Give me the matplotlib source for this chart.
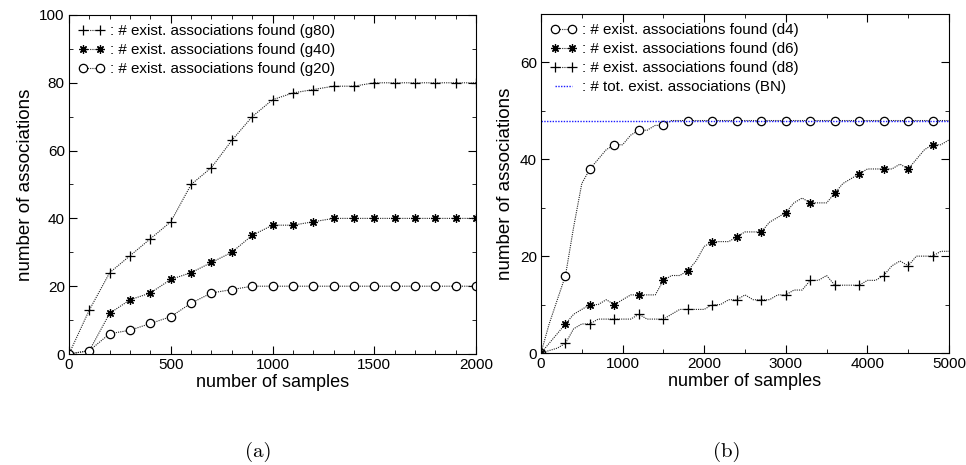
import matplotlib
matplotlib.use('Agg')
import matplotlib.pyplot as plt
from matplotlib.ticker import MultipleLocator

plt.rcParams['font.family'] = ['Liberation Sans', 'DejaVu Sans']

# panel (a): samples 0..2000, step 100
samples_a = list(range(0, 2001, 100))
g80 = [0, 13, 24, 29, 34, 39, 50, 55, 63, 70, 75, 77, 78, 79, 79, 80, 80, 80, 80, 80, 80]
g40 = [0, 1, 12, 16, 18, 22, 24, 27, 30, 35, 38, 38, 39, 40, 40, 40, 40, 40, 40, 40, 40]
g20 = [0, 1, 6, 7, 9, 11, 15, 18, 19, 20, 20, 20, 20, 20, 20, 20, 20, 20, 20, 20, 20]

# panel (b): samples 0..5000, step 100 (markers every 300)
samples_b = list(range(0, 5001, 100))
d4 = [0, 6, 11, 16, 26, 35, 38, 40, 42, 43, 43,
      45, 46, 46, 47, 47, 48, 48, 48, 48, 48,
      48, 48, 48, 48, 48, 48, 48, 48, 48, 48,
      48, 48, 48, 48, 48, 48, 48, 48, 48, 48,
      48, 48, 48, 48, 48, 48, 48, 48, 48, 48]
d6 = [0, 2, 4, 6, 8, 9, 10, 10, 11, 10, 11,
      12, 12, 12, 12, 15, 16, 16, 17, 19, 22,
      23, 23, 23, 24, 25, 25, 25, 27, 28, 29,
      31, 32, 31, 31, 31, 33, 35, 36, 37, 38,
      38, 38, 38, 39, 38, 40, 42, 43, 43, 44]
d8 = [0, 0.5, 1, 2, 5, 6, 6, 7, 7, 7, 7,
      7, 8, 7, 7, 7, 8, 9, 9, 9, 9,
      10, 10, 11, 11, 12, 11, 11, 11, 12, 12,
      13, 13, 15, 15, 16, 14, 14, 14, 14, 15,
      15, 16, 18, 19, 18, 20, 20, 20, 21, 21]
bn_total = 48

labels_a = [': # exist. associations found (g80)',
            ': # exist. associations found (g40)',
            ': # exist. associations found (g20)']
labels_b = [': # exist. associations found (d4)',
            ': # exist. associations found (d6)',
            ': # exist. associations found (d8)',
            ': # tot. exist. associations (BN)']

W, H = 966, 465
fig = plt.figure(figsize=(W / 100, H / 100), dpi=100)
ax1 = fig.add_axes([69 / W, (H - 354) / H, 407 / W, 339 / H])
ax2 = fig.add_axes([541 / W, (H - 353) / H, 408 / W, 339 / H])

ls = (0, (1, 1))
asterisk = (8, 2, 0)
common = dict(color='#222222', lw=0.8, linestyle=ls, mew=0.9, mec='black')

ax1.plot(samples_a, g80, marker='+', ms=6.5, label=labels_a[0], **common)
ax1.plot(samples_a, g40, marker=asterisk, ms=6, label=labels_a[1], **common)
ax1.plot(samples_a, g20, marker='o', ms=6, mfc='white', label=labels_a[2], **common)
ax1.set_xlim(0, 2000)
ax1.set_ylim(0, 100)
ax1.xaxis.set_major_locator(MultipleLocator(500))
ax1.xaxis.set_minor_locator(MultipleLocator(100))
ax1.yaxis.set_major_locator(MultipleLocator(20))
ax1.yaxis.set_minor_locator(MultipleLocator(10))

ax2.plot(samples_b, d4, marker='o', ms=6, mfc='white', markevery=3, label=labels_b[0], **common)
ax2.plot(samples_b, d6, marker=asterisk, ms=6, markevery=3, label=labels_b[1], **common)
ax2.plot(samples_b, d8, marker='+', ms=6.5, markevery=3, label=labels_b[2], **common)
ax2.axhline(bn_total, color='#1a1aff', lw=1.0, linestyle=ls, label=labels_b[3], zorder=2.5)
ax2.set_xlim(0, 5000)
ax2.set_ylim(0, 70)
ax2.xaxis.set_major_locator(MultipleLocator(1000))
ax2.xaxis.set_minor_locator(MultipleLocator(500))
ax2.yaxis.set_major_locator(MultipleLocator(20))
ax2.yaxis.set_minor_locator(MultipleLocator(10))

for ax in (ax1, ax2):
    ax.tick_params(which='both', direction='in', top=True, right=True, labelsize=11, pad=3)
    ax.tick_params(which='major', length=6)
    ax.tick_params(which='minor', length=3)
    ax.set_xlabel('number of samples', fontsize=13, labelpad=1)
    ax.set_ylabel('number of associations', fontsize=13.5, labelpad=4)
    ax.legend(loc='upper left', frameon=False, numpoints=2, fontsize=10.9,
              handlelength=1.75, handletextpad=0.35, labelspacing=0.33,
              borderaxespad=0.3, borderpad=0.3)

fig.text(258 / W, 1 - 452 / H, '(a)', family='cmr10', fontsize=15, ha='center', va='center')
fig.text(727 / W, 1 - 452 / H, '(b)', family='cmr10', fontsize=15, ha='center', va='center')

plt.savefig('out.png', dpi=100)
